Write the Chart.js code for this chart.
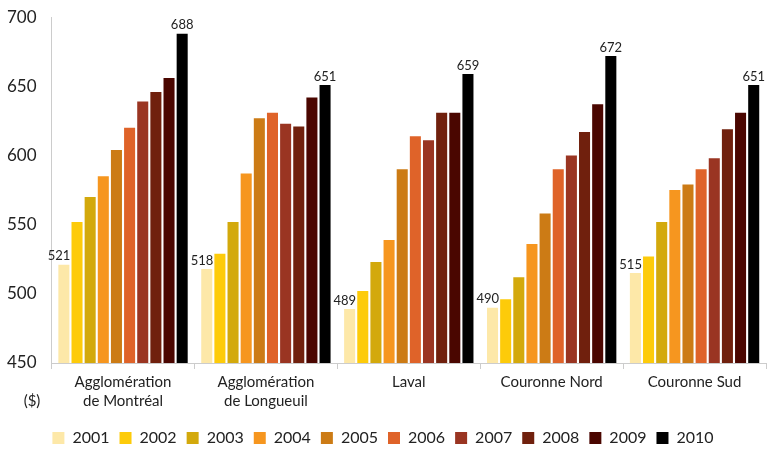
<!DOCTYPE html>
<html>
<head>
<meta charset="utf-8">
<script src="https://cdn.jsdelivr.net/npm/chart.js@4.4.1/dist/chart.umd.min.js"></script>
<style>
  html, body { margin: 0; padding: 0; background: #fff; }
  #wrap { width: 772px; height: 451px; }
</style>
</head>
<body>
<div id="wrap"><canvas id="loyerChart"></canvas></div>
<script>
// === Données ===
const regions = [
    ['Agglomération', 'de Montréal'],
    ['Agglomération', 'de Longueuil'],
    'Laval',
    'Couronne Nord',
    'Couronne Sud'
];
const years = ['2001', '2002', '2003', '2004', '2005', '2006', '2007', '2008', '2009', '2010'];

// one array per year, values in region order
const v2001 = [521, 518, 489, 490, 515];
const v2002 = [552, 529, 502, 496, 527];
const v2003 = [570, 552, 523, 512, 552];
const v2004 = [585, 587, 539, 536, 575];
const v2005 = [604, 627, 590, 558, 579];
const v2006 = [620, 631, 614, 590, 590];
const v2007 = [639, 623, 611, 600, 598];
const v2008 = [646, 621, 631, 617, 619];
const v2009 = [656, 642, 631, 637, 631];
const v2010 = [688, 651, 659, 672, 651];

const yTicks = [450, 500, 550, 600, 650, 700];

const seriesValues = [v2001, v2002, v2003, v2004, v2005, v2006, v2007, v2008, v2009, v2010];
const colors = ['#FDE8A8', '#FDCB0A', '#D3A90C', '#F6961F', '#CC7B15',
                '#DF6329', '#9A3522', '#70200D', '#4A0600', '#000000'];

const FONT = 'Lato, "Open Sans", sans-serif';

// labels on first and last year only
const valueLabels = {
    id: 'valueLabels',
    afterDatasetsDraw(chart) {
        const ctx = chart.ctx;
        ctx.save();
        ctx.font = '13px ' + FONT;
        ctx.fillStyle = '#222';
        ctx.textBaseline = 'bottom';
        [0, seriesValues.length - 1].forEach(function(di) {
            const meta = chart.getDatasetMeta(di);
            meta.data.forEach(function(bar, i) {
                const val = chart.data.datasets[di].data[i];
                if (di === 0) {
                    ctx.textAlign = 'right';
                    ctx.fillText(val, bar.x + bar.width / 2 + 1, bar.y - 2);
                } else {
                    ctx.textAlign = 'center';
                    ctx.fillText(val, bar.x, bar.y - 2);
                }
            });
        });
        // unit below the y axis
        ctx.font = '15px ' + FONT;
        ctx.textAlign = 'center';
        ctx.textBaseline = 'middle';
        ctx.fillText('($)', 32, chart.chartArea.bottom + 38);
        ctx.restore();
    }
};

const canvas = document.getElementById('loyerChart');
new Chart(canvas, {
    type: 'bar',
    data: {
        labels: regions,
        datasets: years.map(function(y, i) {
            return {
                label: y,
                data: seriesValues[i],
                backgroundColor: colors[i],
                categoryPercentage: 0.92,
                barPercentage: 0.84
            };
        })
    },
    options: {
        responsive: true,
        maintainAspectRatio: false,
        animation: false,
        layout: { padding: { top: 4, right: 6, left: 0, bottom: -5 } },
        scales: {
            x: {
                grid: {
                    drawOnChartArea: false,
                    drawTicks: true,
                    tickLength: 6,
                    color: '#cccccc',
                    offset: true
                },
                border: { color: '#cccccc' },
                ticks: {
                    color: '#222',
                    font: { family: FONT, size: 15, lineHeight: 1.3 },
                    padding: 3
                },
                // leave room between the labels and the legend
                afterFit: function(axis) {
                    axis.height += 6;
                }
            },
            y: {
                min: 450,
                max: 700,
                afterBuildTicks: function(axis) {
                    axis.ticks = yTicks.map(v => ({ value: v }));
                },
                grid: { display: false },
                border: { display: true, color: '#cccccc' },
                ticks: {
                    color: '#222',
                    font: { family: FONT, size: 17 },
                    padding: 7
                }
            }
        },
        plugins: {
            legend: {
                position: 'bottom',
                labels: {
                    boxWidth: 12,
                    boxHeight: 12,
                    padding: 10,
                    color: '#222',
                    font: { family: FONT, size: 16 }
                }
            },
            tooltip: { enabled: false }
        }
    },
    plugins: [valueLabels]
});
</script>
</body>
</html>
